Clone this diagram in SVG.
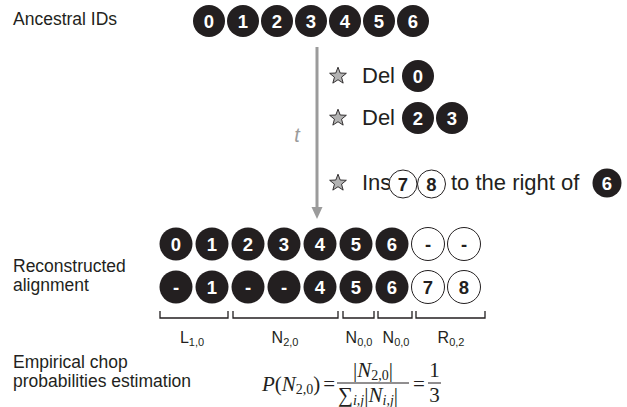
<svg xmlns="http://www.w3.org/2000/svg" xmlns:xlink="http://www.w3.org/1999/xlink" width="627" height="407" viewBox="0 0 627 407">
<style>
.lbl{font-family:"Liberation Sans",Arial,sans-serif;font-size:17.5px;fill:#231f20}
.big{font-family:"Liberation Sans",Arial,sans-serif;font-size:22px;fill:#231f20}
.b{fill:#231f20}
.o{fill:#fff;stroke:#231f20;stroke-width:1}
.bt{font-family:"Liberation Sans",Arial,sans-serif;font-weight:bold;font-size:18.5px;fill:#fff;text-anchor:middle}
.ot{font-family:"Liberation Sans",Arial,sans-serif;font-weight:bold;font-size:18.5px;fill:#231f20;text-anchor:middle}
.br{fill:none;stroke:#231f20;stroke-width:1.3}
.sub{font-family:"Liberation Sans",Arial,sans-serif;font-size:16px;fill:#231f20;text-anchor:middle}
.m{font-family:"Liberation Serif","DejaVu Serif",serif;font-size:21px;fill:#231f20}
.tt{font-family:"Liberation Sans",Arial,sans-serif;font-size:20px;font-style:italic;fill:#9b9b9b;text-anchor:middle}
</style>
<defs>
<polygon id="star" points="0,-8.8 2.2,-3 8.37,-2.72 3.55,1.16 5.17,7.12 0,3.74 -5.17,7.12 -3.55,1.16 -8.37,-2.72 -2.2,-3" fill="#b3b3b3" stroke="#231f20" stroke-width="0.9" stroke-linejoin="round"/>
</defs>

<g id="labels">
<text class="lbl" x="13" y="25">Ancestral IDs</text>
<text class="lbl" x="13" y="272">Reconstructed</text>
<text class="lbl" x="13" y="291">alignment</text>
<text class="lbl" x="13" y="368">Empirical chop</text>
<text class="lbl" x="13" y="387">probabilities estimation</text>
</g>

<g id="ancestral">
<circle class="b" cx="209" cy="21" r="16"/><text class="bt" x="209" y="27.5">0</text>
<circle class="b" cx="243" cy="21" r="16"/><text class="bt" x="243" y="27.5">1</text>
<circle class="b" cx="277" cy="21" r="16"/><text class="bt" x="277" y="27.5">2</text>
<circle class="b" cx="311" cy="21" r="16"/><text class="bt" x="311" y="27.5">3</text>
<circle class="b" cx="345" cy="21" r="16"/><text class="bt" x="345" y="27.5">4</text>
<circle class="b" cx="379" cy="21" r="16"/><text class="bt" x="379" y="27.5">5</text>
<circle class="b" cx="413" cy="21" r="16"/><text class="bt" x="413" y="27.5">6</text>
</g>

<g id="connectors">
<line x1="317" y1="47" x2="317" y2="209" stroke="#9b9b9b" stroke-width="3"/>
<polygon points="311.5,207 322.5,207 317,219" fill="#9b9b9b"/>
<text class="tt" x="297" y="142">t</text>
</g>

<g id="event-del0">
<use xlink:href="#star" x="338" y="76"/>
<text class="big" x="362" y="83">Del</text>
<circle class="b" cx="418" cy="76" r="16"/><text class="bt" x="418" y="82.5">0</text>
</g>

<g id="event-del23">
<use xlink:href="#star" x="338" y="118"/>
<text class="big" x="362" y="125">Del</text>
<circle class="b" cx="418" cy="118" r="16"/><text class="bt" x="418" y="124.5">2</text>
<circle class="b" cx="452" cy="118" r="16"/><text class="bt" x="452" y="124.5">3</text>
</g>

<g id="event-ins">
<use xlink:href="#star" x="338" y="183"/>
<text class="big" x="362" y="190">Ins</text>
<circle class="o" cx="403" cy="184" r="14"/><text class="ot" x="403" y="190.5">7</text>
<circle class="o" cx="431.5" cy="184" r="14"/><text class="ot" x="431.5" y="190.5">8</text>
<text class="big" x="451" y="190">to the right of</text>
<circle class="b" cx="607" cy="183" r="14.5"/><text class="bt" x="607" y="189.5">6</text>
</g>

<g id="row-ancestral">
<circle class="b" cx="176" cy="244" r="16.5"/><text class="bt" x="176" y="250.5">0</text>
<circle class="b" cx="212" cy="244" r="16.5"/><text class="bt" x="212" y="250.5">1</text>
<circle class="b" cx="248" cy="244" r="16.5"/><text class="bt" x="248" y="250.5">2</text>
<circle class="b" cx="284" cy="244" r="16.5"/><text class="bt" x="284" y="250.5">3</text>
<circle class="b" cx="320" cy="244" r="16.5"/><text class="bt" x="320" y="250.5">4</text>
<circle class="b" cx="356" cy="244" r="16.5"/><text class="bt" x="356" y="250.5">5</text>
<circle class="b" cx="392" cy="244" r="16.5"/><text class="bt" x="392" y="250.5">6</text>
<circle class="o" cx="428" cy="244" r="16.5"/><text class="ot" x="428" y="250.5">-</text>
<circle class="o" cx="464" cy="244" r="16.5"/><text class="ot" x="464" y="250.5">-</text>
</g>

<g id="row-descendant">
<circle class="b" cx="176" cy="287" r="16.5"/><text class="bt" x="176" y="293.5">-</text>
<circle class="b" cx="212" cy="287" r="16.5"/><text class="bt" x="212" y="293.5">1</text>
<circle class="b" cx="248" cy="287" r="16.5"/><text class="bt" x="248" y="293.5">-</text>
<circle class="b" cx="284" cy="287" r="16.5"/><text class="bt" x="284" y="293.5">-</text>
<circle class="b" cx="320" cy="287" r="16.5"/><text class="bt" x="320" y="293.5">4</text>
<circle class="b" cx="356" cy="287" r="16.5"/><text class="bt" x="356" y="293.5">5</text>
<circle class="b" cx="392" cy="287" r="16.5"/><text class="bt" x="392" y="293.5">6</text>
<circle class="o" cx="428" cy="287" r="16.5"/><text class="ot" x="428" y="293.5">7</text>
<circle class="o" cx="464" cy="287" r="16.5"/><text class="ot" x="464" y="293.5">8</text>
</g>

<g id="brackets">
<path class="br" d="M160,311V318H228V311"/>
<path class="br" d="M233,311V318H338V311"/>
<path class="br" d="M343,311V318H374V311"/>
<path class="br" d="M378,311V318H412V311"/>
<path class="br" d="M416,311V318H485V311"/>
<text class="sub" x="192" y="343">L<tspan font-size="11" dy="3">1,0</tspan></text>
<text class="sub" x="285" y="343">N<tspan font-size="11" dy="3">2,0</tspan></text>
<text class="sub" x="359" y="343">N<tspan font-size="11" dy="3">0,0</tspan></text>
<text class="sub" x="396" y="343">N<tspan font-size="11" dy="3">0,0</tspan></text>
<text class="sub" x="451" y="343">R<tspan font-size="11" dy="3">0,2</tspan></text>
</g>

<g id="formula">
<text class="m" x="262" y="391"><tspan font-style="italic">P</tspan>(<tspan font-style="italic">N</tspan><tspan font-size="14" dy="3">2,0</tspan><tspan dy="-3">)</tspan><tspan dx="3">=</tspan></text>
<text class="m" x="373" y="377" text-anchor="middle">|<tspan font-style="italic">N</tspan><tspan font-size="14" dy="3">2,0</tspan><tspan dy="-3">|</tspan></text>
<line x1="337" y1="383" x2="409" y2="383" stroke="#231f20" stroke-width="1"/>
<text class="m" x="338" y="402">∑<tspan font-size="14" font-style="italic" dy="3">i,j</tspan><tspan dy="-3">|</tspan><tspan font-style="italic">N</tspan><tspan font-size="14" font-style="italic" dy="3">i,j</tspan><tspan dy="-3">|</tspan></text>
<text class="m" x="413" y="391">=</text>
<text class="m" x="434.5" y="377" text-anchor="middle">1</text>
<line x1="428" y1="383" x2="441" y2="383" stroke="#231f20" stroke-width="1"/>
<text class="m" x="434.5" y="402" text-anchor="middle">3</text>
</g>
</svg>
